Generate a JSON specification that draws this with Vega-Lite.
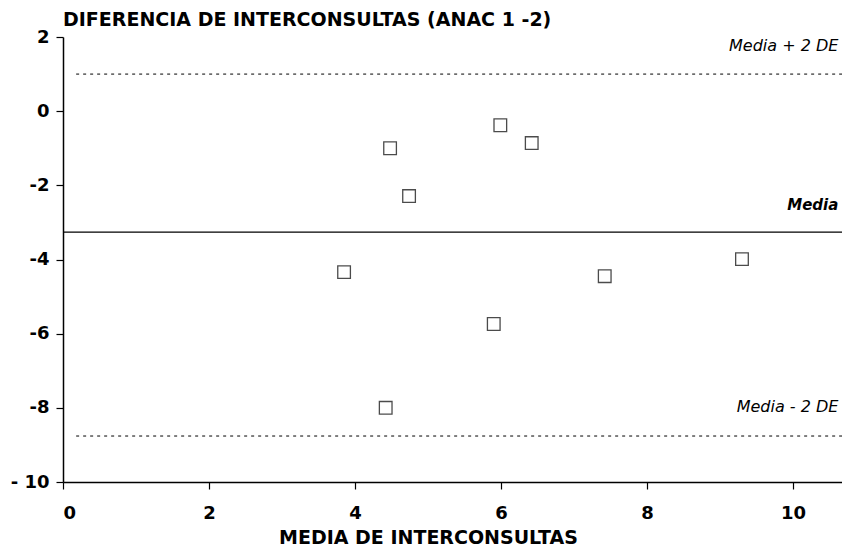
{
  "$schema": "https://vega.github.io/schema/vega-lite/v6.json",
  "autosize": "none",
  "width": 779,
  "height": 445,
  "padding": {"left": 63, "top": 37, "right": 0, "bottom": 68},
  "background": "white",
  "config": {"view": {"stroke": null}, "font": "DejaVu Sans"},
  "title": {"text": "DIFERENCIA DE INTERCONSULTAS (ANAC 1 -2)", "anchor": "start", "frame": "group", "fontSize": 19, "fontWeight": "bold", "font": "DejaVu Sans", "color": "black", "offset": -2},
  "datasets": {
    "points": [
      {"media": 3.85, "dif": -4.34},
      {"media": 4.48, "dif": -1.0},
      {"media": 4.74, "dif": -2.29},
      {"media": 4.42, "dif": -8.0},
      {"media": 5.9, "dif": -5.74},
      {"media": 5.99, "dif": -0.38},
      {"media": 6.42, "dif": -0.86},
      {"media": 7.42, "dif": -4.45},
      {"media": 9.3, "dif": -3.99}
    ],
    "limits": [
      {"start": 0.18, "end": 10.67, "value": 1.0},
      {"start": 0.18, "end": 10.67, "value": -8.76}
    ],
    "mean": [
      {"start": 0.0, "end": 10.67, "value": -3.26}
    ],
    "limitLabels": [
      {"x": 10.62, "y": 1.75, "label": "Media + 2 DE"},
      {"x": 10.62, "y": -7.98, "label": "Media - 2 DE"}
    ],
    "meanLabel": [
      {"x": 10.62, "y": -2.53, "label": "Media"}
    ]
  },
  "layer": [
    {
      "data": {"name": "points"},
      "mark": {"type": "point", "shape": "square", "filled": false, "stroke": "black", "strokeWidth": 1.3, "size": 160},
      "encoding": {
        "x": {"field": "media", "type": "quantitative", "scale": {"domain": [0, 10.67], "nice": false, "zero": false},
          "axis": {"title": "MEDIA DE INTERCONSULTAS", "titleX": 365, "titleAlign": "center", "values": [0, 2, 4, 6, 8, 10], "format": "d", "grid": false, "domainColor": "black", "domainWidth": 1.5, "tickColor": "black", "tickSize": 7, "tickWidth": 1.2, "labelFontSize": 18, "labelFontWeight": "bold", "labelColor": "black", "labelPadding": 15, "titleFontSize": 19, "titleFontWeight": "bold", "titleColor": "black", "titlePadding": 6, "labelFont": "DejaVu Sans", "titleFont": "DejaVu Sans"}},
        "y": {"field": "dif", "type": "quantitative", "scale": {"domain": [-10, 2], "nice": false, "zero": false},
          "axis": {"title": null, "values": [-10, -8, -6, -4, -2, 0, 2], "grid": false, "domainColor": "black", "domainWidth": 1.5, "tickColor": "black", "tickSize": 7, "tickWidth": 1.2, "labelFontSize": 18, "labelFontWeight": "bold", "labelColor": "black", "labelPadding": 7, "labelFont": "DejaVu Sans", "labelExpr": "datum.value == -10 ? '- 10' : (datum.value < 0 ? '-' + abs(datum.value) : datum.label)"}}
      }
    },
    {
      "data": {"name": "limits"},
      "mark": {"type": "rule", "stroke": "black", "strokeWidth": 1, "strokeDash": [3, 4]},
      "encoding": {
        "x": {"field": "start", "type": "quantitative"},
        "x2": {"field": "end"},
        "y": {"field": "value", "type": "quantitative"}
      }
    },
    {
      "data": {"name": "mean"},
      "mark": {"type": "rule", "stroke": "black", "strokeWidth": 1.2},
      "encoding": {
        "x": {"field": "start", "type": "quantitative"},
        "x2": {"field": "end"},
        "y": {"field": "value", "type": "quantitative"}
      }
    },
    {
      "data": {"name": "limitLabels"},
      "mark": {"type": "text", "align": "right", "baseline": "middle", "fontStyle": "italic", "fontSize": 16, "font": "DejaVu Sans", "color": "black"},
      "encoding": {
        "x": {"field": "x", "type": "quantitative"},
        "y": {"field": "y", "type": "quantitative"},
        "text": {"field": "label"}
      }
    },
    {
      "data": {"name": "meanLabel"},
      "mark": {"type": "text", "align": "right", "baseline": "middle", "fontStyle": "italic", "fontWeight": "bold", "fontSize": 15, "font": "DejaVu Sans", "color": "black"},
      "encoding": {
        "x": {"field": "x", "type": "quantitative"},
        "y": {"field": "y", "type": "quantitative"},
        "text": {"field": "label"}
      }
    }
  ]
}
